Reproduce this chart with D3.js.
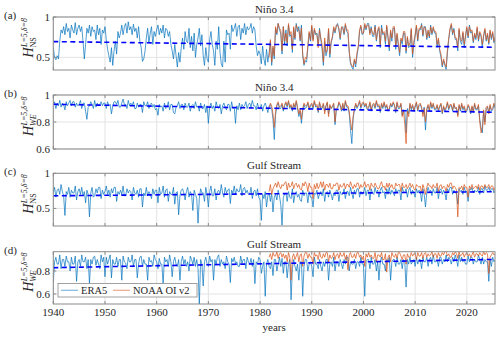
<!DOCTYPE html>
<html><head><meta charset="utf-8">
<script src="https://cdn.jsdelivr.net/npm/d3@7"></script>
<style>body{margin:0;background:#fff}svg{display:block}text{font-family:"Liberation Serif","DejaVu Serif",serif}</style>
</head><body><svg id="c" width="500" height="339" font-family="Liberation Serif, DejaVu Serif, serif"></svg>
<script>
// ---- data (quarterly samples) ----
const era5Start = 1940, noaaStart = 1981.75, stepYears = 0.25;
const era5A = [
.62,.50,.47,.52, .48,.70,.84,.80, .88,.78,.92,.82, .86,.74,.90,.84, .80,.93,.78,.86, .90,.82,.88,.70, .48,.66,.86,.80, .90,.76,.88,.82, .84,.72,.90,.78, .86,.66,.84,.80,
.88,.72,.60,.52, .44,.62,.40,.58, .70,.54,.82,.74, .80,.90,.78,.88, .92,.80,.94,.84, .88,.78,.91,.82, .86,.74,.88,.70, .62,.45,.48,.58, .74,.86,.68,.80, .88,.66,.82,.76,
.84,.90,.78,.86, .80,.90,.74,.86, .84,.76,.82,.66, .58,.48,.66,.52, .38,.56,.44,.62, .74,.60,.82,.70, .68,.86,.62,.76, .58,.80,.50,.66, .74,.86,.64,.78, .52,.40,.62,.48,
.44,.72,.82,.66, .58,.40,.70,.60, .88,.56,.42,.38, .70,.44,.84,.78, .80,.60,.90,.82, .86,.92,.76,.88, .90,.72,.86,.80, .92,.78,.88,.84, .86,.92,.80,.88, .84,.64,.52,.58,
.54,.42,.64,.48, .40,.60,.44,.56, .70,.40,.62,.48, .86,.78,.92,.84, .80,.54,.88,.66, .84,.64,.90,.76, .78,.56,.86,.72, .92,.82,.88,.70, .90,.52,.40,.46, .44,.62,.80,.70,
.88,.72,.84,.78, .80,.64,.86,.72, .60,.40,.70,.52, .58,.84,.50,.68, .74,.86,.80,.88, .92,.84,.72,.86, .88,.78,.90,.82, .80,.56,.42,.38, .35,.46,.38,.52, .62,.82,.88,.78,
.80,.90,.84,.92, .92,.80,.88,.76, .76,.90,.70,.82, .86,.62,.90,.78, .80,.66,.88,.74, .58,.82,.70,.86, .86,.60,.78,.64, .52,.72,.66,.80, .80,.55,.74,.62, .64,.84,.50,.66,
.76,.88,.70,.84, .84,.92,.76,.88, .88,.72,.82,.74, .90,.78,.86,.80, .80,.62,.72,.58, .50,.38,.46,.40, .35,.56,.72,.84, .90,.78,.86,.72, .72,.58,.84,.70, .66,.80,.62,.76,
.86,.74,.90,.80, .82,.68,.78,.72, .86,.70,.80,.76, .62,.76,.84,.70, .78,.66,.82,.72, .80,.68,.74];
const noaaA = [.50,
.72,.44,.64,.52, .88,.80,.92,.86, .84,.58,.88,.70, .80,.68,.92,.78, .82,.60,.88,.74, .90,.86,.84,.72, .86,.54,.42,.50, .48,.66,.82,.72,
.90,.70,.86,.80, .78,.62,.84,.74, .66,.44,.74,.56, .60,.86,.54,.70, .76,.88,.82,.90, .90,.86,.74,.88, .86,.80,.92,.84, .84,.58,.44,.40, .38,.48,.42,.56, .64,.84,.90,.80,
.80,.92,.86,.90, .90,.78,.86,.80, .78,.88,.72,.84, .88,.66,.86,.80, .82,.70,.90,.76, .62,.84,.74,.88, .88,.64,.80,.68, .56,.74,.70,.82, .82,.58,.76,.64, .68,.86,.54,.70,
.78,.90,.72,.86, .86,.90,.78,.88, .86,.74,.84,.76, .88,.80,.88,.82, .82,.66,.74,.60, .54,.40,.48,.42, .38,.60,.74,.86, .92,.80,.84,.74, .74,.62,.86,.72, .70,.82,.66,.78,
.88,.76,.88,.82, .84,.70,.80,.74, .88,.72,.82,.78, .66,.78,.86,.72, .80,.68,.84,.74, .82,.70,.76];
const era5B = [
.93,.95,.90,.94, .92,.96,.91,.94, .93,.89,.95,.92, .94,.96,.92,.95, .95,.91,.94,.92, .93,.96,.90,.94, .94,.88,.82,.91, .92,.95,.93,.90, .96,.91,.94,.92, .93,.95,.92,.94,
.94,.90,.95,.92, .93,.86,.92,.95, .95,.93,.96,.91, .91,.94,.97,.93, .93,.90,.96,.92, .94,.92,.95,.90, .90,.94,.91,.93, .93,.87,.95,.92, .92,.95,.90,.93, .94,.91,.93,.89,
.90,.85,.93,.91, .92,.88,.94,.90, .91,.95,.89,.93, .93,.87,.86,.91, .92,.95,.90,.93, .93,.89,.94,.91, .91,.94,.88,.92, .93,.90,.95,.91, .92,.88,.94,.90, .90,.93,.87,.92,
.79,.91,.94,.90, .92,.88,.95,.91, .90,.93,.86,.92, .94,.91,.89,.93, .93,.88,.95,.90, .91,.79,.92,.89, .94,.89,.93,.91, .92,.95,.90,.93, .94,.91,.96,.92, .92,.89,.94,.90,
.90,.93,.88,.92, .94,.91,.87,.92, .93,.90,.82,.67, .85,.92,.94,.90, .90,.93,.88,.92, .94,.91,.95,.90, .92,.88,.93,.90, .95,.90,.84,.88, .79,.88,.93,.90, .91,.94,.89,.92,
.93,.90,.95,.91, .92,.87,.94,.90, .90,.93,.88,.92, .94,.86,.92,.90, .91,.93,.78,.89, .90,.94,.92,.88, .93,.88,.95,.91, .91,.86,.74,.64, .82,.89,.93,.90, .92,.95,.90,.93,
.94,.91,.93,.89, .90,.94,.88,.92, .93,.90,.95,.91, .92,.87,.93,.90, .94,.90,.92,.88, .89,.93,.91,.94, .92,.87,.94,.90, .90,.93,.85,.89, .88,.72,.90,.86, .93,.89,.92,.88,
.91,.94,.88,.92, .93,.90,.86,.91, .74,.89,.92,.88, .94,.90,.93,.89, .89,.92,.88,.91, .93,.86,.91,.88, .90,.94,.89,.92, .92,.88,.93,.90, .90,.85,.92,.88, .93,.89,.91,.87,
.88,.92,.90,.86, .91,.87,.93,.89, .89,.92,.82,.76, .72,.88,.80,.90, .91,.87,.92,.88, .89,.93,.90];
const noaaB = [.90,
.94,.92,.86,.76, .88,.93,.95,.91, .92,.94,.89,.93, .95,.92,.96,.91, .93,.89,.94,.91, .96,.91,.86,.90, .82,.90,.94,.92, .92,.95,.90,.93,
.94,.91,.96,.92, .93,.88,.95,.91, .91,.94,.86,.92, .95,.84,.93,.90, .92,.94,.80,.90, .91,.95,.93,.89, .94,.89,.96,.92, .92,.88,.80,.74, .84,.90,.94,.91, .93,.96,.91,.94,
.95,.92,.94,.90, .91,.95,.89,.93, .94,.91,.96,.92, .93,.88,.94,.91, .95,.91,.93,.89, .90,.94,.92,.95, .93,.88,.95,.91, .91,.94,.84,.88, .78,.64,.88,.84, .94,.90,.93,.89,
.92,.95,.89,.93, .94,.91,.84,.90, .80,.90,.93,.89, .95,.91,.94,.90, .90,.93,.89,.92, .94,.87,.92,.89, .91,.95,.90,.93, .93,.89,.94,.90, .91,.84,.93,.89, .94,.90,.92,.88,
.89,.93,.91,.87, .92,.88,.94,.90, .90,.93,.80,.72, .75,.89,.78,.91, .92,.86,.93,.89, .90,.94,.91];
const era5C = [
.72,.80,.66,.76, .78,.70,.84,.74, .68,.40,.74,.70, .80,.66,.76,.72, .72,.82,.62,.74, .78,.70,.80,.68, .74,.58,.76,.70, .38,.72,.80,.66, .68,.78,.72,.80, .80,.64,.76,.70,
.74,.82,.70,.76, .66,.78,.72,.80, .80,.60,.74,.70, .76,.70,.82,.68, .68,.78,.72,.76, .74,.62,.80,.72, .70,.76,.66,.78, .78,.52,.72,.68, .80,.68,.74,.70, .64,.78,.70,.76,
.76,.58,.80,.70, .72,.82,.66,.76, .78,.60,.74,.70, .70,.80,.56,.72, .74,.41,.68,.76, .78,.72,.62,.74, .80,.66,.74,.70, .47,.76,.70,.64, .29,.64,.78,.72, .72,.60,.80,.70,
.52,.74,.82,.68, .68,.78,.62,.74, .76,.70,.84,.72, .66,.80,.72,.76, .78,.57,.76,.72, .82,.70,.78,.74, .74,.84,.68,.78, .80,.72,.76,.70, .70,.80,.64,.74, .76,.68,.78,.66,
.62,.33,.70,.64, .74,.52,.68,.72, .60,.72,.45,.66, .70,.62,.76,.68, .56,.26,.66,.70, .72,.60,.74,.66, .64,.78,.58,.70, .74,.66,.70,.62, .60,.76,.68,.72, .72,.58,.74,.66,
.66,.52,.72,.70, .76,.64,.70,.74, .68,.78,.60,.72, .74,.66,.76,.70, .62,.72,.68,.76, .76,.60,.74,.70, .70,.78,.64,.74, .74,.68,.80,.72, .64,.76,.70,.78, .78,.66,.74,.70,
.72,.80,.68,.76, .76,.62,.78,.72, .70,.80,.72,.76, .66,.76,.80,.72, .74,.64,.78,.70, .80,.70,.76,.72, .68,.78,.72,.76, .76,.62,.80,.74, .72,.78,.66,.76, .80,.70,.76,.72,
.66,.78,.72,.76, .74,.60,.78,.70, .52,.72,.80,.74, .76,.68,.78,.72, .72,.80,.64,.76, .78,.70,.76,.72, .62,.78,.74,.80, .80,.70,.76,.72, .72,.56,.78,.74, .76,.70,.80,.74,
.74,.60,.78,.76, .80,.72,.76,.74, .74,.80,.70,.78, .78,.72,.82,.76, .76,.80,.74,.78, .78,.72,.76];
const noaaC = [.74,
.84,.70,.78,.82, .86,.80,.88,.82, .78,.84,.82,.86, .88,.76,.86,.80, .82,.88,.78,.84, .86,.80,.84,.78, .76,.86,.82,.88, .84,.74,.86,.80,
.80,.64,.84,.78, .86,.78,.82,.88, .80,.88,.76,.84, .84,.80,.86,.78, .78,.84,.82,.86, .86,.76,.84,.80, .82,.86,.78,.84, .84,.80,.88,.82, .78,.84,.80,.86, .86,.78,.84,.80,
.82,.88,.80,.84, .84,.76,.86,.82, .80,.86,.82,.78, .78,.84,.88,.80, .82,.76,.86,.80, .86,.80,.84,.78, .78,.86,.82,.84, .84,.74,.86,.80, .80,.84,.78,.82, .86,.80,.84,.78,
.76,.84,.82,.80, .82,.72,.84,.78, .70,.80,.86,.82, .82,.78,.84,.80, .80,.86,.74,.82, .84,.78,.82,.80, .74,.84,.80,.86, .86,.78,.82,.80, .76,.38,.80,.78, .82,.76,.84,.80,
.80,.66,.82,.78, .84,.78,.80,.82, .78,.84,.76,.82, .82,.78,.84,.80, .80,.84,.78,.82, .82,.76,.80];
const era5D = [
.70,.88,.92,.86, .86,.94,.82,.90, .90,.84,.93,.88, .88,.80,.92,.86, .86,.93,.71,.88, .90,.84,.94,.88, .88,.92,.82,.90, .69,.90,.86,.92, .93,.85,.90,.86, .82,.94,.88,.92,
.75,.92,.86,.90, .94,.74,.90,.86, .86,.92,.84,.90, .90,.72,.93,.88, .87,.82,.92,.88, .88,.94,.84,.90, .90,.74,.86,.92, .93,.84,.90,.86, .86,.72,.92,.88, .89,.84,.94,.90,
.88,.82,.91,.86, .86,.68,.92,.88, .90,.84,.94,.88, .75,.88,.92,.86, .84,.90,.72,.88, .93,.86,.90,.84, .88,.80,.93,.90, .86,.92,.84,.90, .82,.50,.90,.86, .67,.88,.92,.86,
.84,.93,.88,.90, .72,.90,.86,.92, .94,.84,.90,.86, .88,.82,.93,.88, .86,.70,.91,.88, .92,.86,.88,.84, .84,.93,.87,.90, .90,.82,.92,.88, .86,.91,.84,.90, .69,.88,.86,.92,
.90,.78,.84,.88, .58,.86,.90,.84, .82,.88,.76,.90, .90,.80,.86,.92, .84,.91,.78,.88, .88,.74,.86,.90, .55,.82,.90,.84, .80,.86,.72,.88, .88,.58,.84,.90, .90,.80,.86,.88,
.84,.75,.92,.86, .86,.82,.90,.84, .80,.88,.84,.90, .90,.72,.86,.88, .84,.92,.80,.88, .88,.84,.90,.86, .82,.90,.86,.92, .92,.80,.88,.86, .86,.90,.82,.88, .88,.84,.92,.86,
.86,.58,.88,.90, .90,.82,.92,.86, .86,.90,.80,.88, .72,.88,.92,.86, .86,.80,.90,.88, .92,.72,.88,.90, .90,.84,.92,.86, .86,.90,.82,.90, .88,.66,.90,.86, .92,.86,.88,.90,
.84,.92,.86,.90, .90,.82,.92,.88, .88,.92,.84,.90, .92,.86,.94,.88, .88,.90,.84,.92, .92,.86,.90,.88, .94,.88,.92,.90, .86,.92,.88,.94, .90,.84,.94,.88, .92,.88,.90,.86,
.86,.93,.88,.92, .92,.86,.90,.88, .88,.94,.90,.86, .92,.86,.90,.88, .88,.71,.90,.84, .92,.88,.90];
const noaaD = [.92,
.95,.90,.96,.93, .93,.97,.91,.95, .96,.92,.95,.91, .94,.88,.96,.92, .72,.92,.95,.90, .93,.96,.88,.94, .95,.84,.93,.96, .96,.91,.95,.92,
.92,.86,.96,.93, .94,.90,.97,.92, .91,.95,.92,.96, .96,.88,.94,.91, .92,.96,.90,.94, .95,.91,.96,.93, .93,.96,.90,.94, .81,.94,.96,.92, .92,.95,.91,.96, .96,.92,.94,.90,
.93,.84,.95,.92, .96,.92,.94,.91, .91,.96,.88,.94, .94,.92,.96,.90, .90,.95,.79,.92, .94,.88,.96,.93, .92,.95,.91,.96, .96,.93,.90,.94, .94,.86,.95,.92, .92,.96,.93,.95,
.95,.90,.96,.93, .93,.96,.91,.95, .96,.92,.95,.93, .94,.97,.92,.95, .95,.91,.96,.93, .93,.96,.94,.97, .97,.93,.95,.92, .92,.96,.94,.97, .95,.91,.97,.93, .94,.96,.92,.95,
.96,.93,.95,.92, .94,.97,.92,.95, .95,.93,.96,.94, .93,.97,.94,.96, .95,.78,.92,.94, .96,.94,.95];
const trendStart = [0.695, 0.931, 0.680, 0.829];
const trendEnd   = [0.625, 0.872, 0.738, 0.901];
const trendYears = [1940, 2025.45];
const titles = ["Niño 3.4", "Niño 3.4", "Gulf Stream", "Gulf Stream"];
const panelLabels = ["(a)", "(b)", "(c)", "(d)"];
const yLabelSubs = ["NS", "WE", "NS", "WE"];
const yDomains = [[0.343, 1], [0.6, 1], [0.25, 1], [0.513, 0.968]];
const yTicks = [[0.5, 1], [0.6, 0.8, 1], [0.5, 1], [0.6, 0.8]];
const xTicks = [1940, 1950, 1960, 1970, 1980, 1990, 2000, 2010, 2020];
const seriesNames = ["ERA5", "NOAA OI v2"];

// ---- drawing ----
const era5 = [era5A, era5B, era5C, era5D];
const noaa = [noaaA, noaaB, noaaC, noaaD];
const svg = d3.select("#c");
const L = 53.3, R = 495;
const tops = [17, 95, 173.3, 251.7], bots = [70, 149, 226, 304];
const x = d3.scaleLinear().domain([1940, 2025.45]).range([L, R]);
const cBlue = "#0072BD", cOrange = "#D95319", boxC = "#8a8a8a", txtC = "#262626";

for (let p = 0; p < 4; p++) {
  const y = d3.scaleLinear().domain(yDomains[p]).range([bots[p], tops[p]]);
  const g = svg.append("g");
  g.selectAll(null).data(xTicks).join("line")
    .attr("x1", d => x(d)).attr("x2", d => x(d)).attr("y1", tops[p]).attr("y2", bots[p])
    .attr("stroke", "#e3e3e3").attr("stroke-width", 1);
  g.selectAll(null).data(yTicks[p]).join("line")
    .attr("x1", L).attr("x2", R).attr("y1", d => y(d)).attr("y2", d => y(d))
    .attr("stroke", "#e3e3e3").attr("stroke-width", 1);
  svg.append("clipPath").attr("id", "cl" + p).append("rect")
    .attr("x", L).attr("y", tops[p]).attr("width", R - L).attr("height", bots[p] - tops[p]);
  const pg = g.append("g").attr("clip-path", `url(#cl${p})`);
  const lineE = d3.line().x((d, i) => x(era5Start + i * stepYears)).y(d => y(d));
  const lineN = d3.line().x((d, i) => x(noaaStart + i * stepYears)).y(d => y(d));
  pg.append("path").attr("d", lineE(era5[p])).attr("fill", "none")
    .attr("stroke", cBlue).attr("stroke-opacity", 0.82).attr("stroke-width", 0.85).attr("stroke-linejoin", "round");
  pg.append("path").attr("d", lineN(noaa[p])).attr("fill", "none")
    .attr("stroke", cOrange).attr("stroke-opacity", 0.85).attr("stroke-width", 0.85).attr("stroke-linejoin", "round");
  const tr = [[trendYears[0], trendStart[p]], [trendYears[1], trendEnd[p]]];
  pg.append("path").attr("d", d3.line().x(d => x(d[0])).y(d => y(d[1]))(tr))
    .attr("fill", "none").attr("stroke", "#0000ff").attr("stroke-width", 1.6).attr("stroke-dasharray", "5,3.5");
  g.append("rect").attr("x", L).attr("y", tops[p]).attr("width", R - L).attr("height", bots[p] - tops[p])
    .attr("fill", "none").attr("stroke", boxC).attr("stroke-width", 1);
  g.selectAll(null).data(xTicks).join("path")
    .attr("d", d => `M${x(d)},${bots[p]}v-3M${x(d)},${tops[p]}v3`).attr("stroke", boxC);
  g.selectAll(null).data(yTicks[p]).join("path")
    .attr("d", d => `M${L},${y(d)}h3M${R},${y(d)}h-3`).attr("stroke", boxC);
  g.selectAll(null).data(yTicks[p]).join("text")
    .attr("x", 50).attr("y", d => y(d) + 4).attr("text-anchor", "end")
    .attr("font-size", 11).attr("fill", txtC).text(d => String(d));
  svg.append("text").attr("x", (L + R) / 2).attr("y", tops[p] - 4).attr("text-anchor", "middle")
    .attr("font-size", 11).attr("fill", txtC).text(titles[p]);
  svg.append("text").attr("x", 4).attr("y", tops[p] + 2).attr("font-size", 11).attr("fill", txtC).text(panelLabels[p]);
  const yc = (tops[p] + bots[p]) / 2;
  const lg = svg.append("g").attr("transform", `translate(33,${yc}) rotate(-90)`).attr("fill", txtC);
  lg.append("text").attr("x", -14).attr("y", 0).attr("font-size", 14).attr("font-style", "italic").text("H");
  lg.append("text").attr("x", -3.5).attr("y", -6.5).attr("font-size", 8).attr("font-style", "italic").text("L=5,δ=8");
  lg.append("text").attr("x", -4).attr("y", 2.5).attr("font-size", 8)
    .attr("font-style", p % 2 === 1 ? "italic" : "normal").text(yLabelSubs[p]);
}
svg.selectAll(null).data(xTicks).join("text")
  .attr("x", d => x(d)).attr("y", 316).attr("text-anchor", "middle")
  .attr("font-size", 11).attr("fill", txtC).text(d => d);
svg.append("text").attr("x", (L + R) / 2).attr("y", 331).attr("text-anchor", "middle")
  .attr("font-size", 11).attr("fill", txtC).text("years");
const lgd = svg.append("g");
lgd.append("rect").attr("x", 58).attr("y", 283.5).attr("width", 139).attr("height", 13.5)
  .attr("fill", "#fff").attr("stroke", boxC).attr("stroke-width", 0.8);
[[cBlue, 61, 81], [cOrange, 113, 133]].forEach((s, i) => {
  lgd.append("line").attr("x1", s[1]).attr("x2", s[1] + 17).attr("y1", 290.3).attr("y2", 290.3)
    .attr("stroke", s[0]).attr("stroke-opacity", 0.5).attr("stroke-width", 1.2);
  lgd.append("text").attr("x", s[2]).attr("y", 294.3).attr("font-size", 10.5).attr("fill", txtC).text(seriesNames[i]);
});
</script></body></html>
